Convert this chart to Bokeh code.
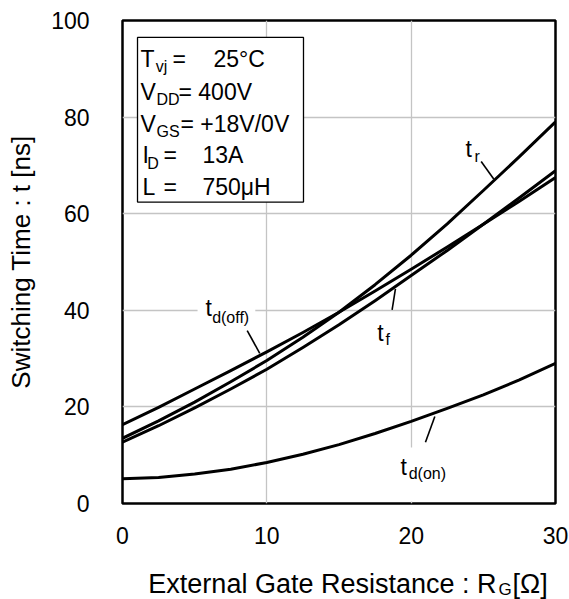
from bokeh.plotting import figure
from bokeh.layouts import column
from bokeh.models import Label, BoxAnnotation, FixedTicker, Range1d
from bokeh.embed import file_html
from bokeh.resources import INLINE

# ---- data ----
rg = [0, 2.5, 5, 7.5, 10, 12.5, 15, 17.5, 20, 22.5, 25, 27.5, 30]
t_d_off = [16.3, 19.9, 23.7, 27.5, 31.4, 35.4, 39.6, 44.0, 48.5, 53.1, 57.8, 62.6, 67.5]
t_r = [13.5, 17.1, 21.0, 25.2, 29.6, 34.4, 39.6, 45.3, 51.4, 57.9, 64.8, 71.8, 79.0]
t_f = [12.7, 16.1, 19.8, 23.7, 27.8, 32.3, 37.0, 42.0, 47.2, 52.4, 57.8, 63.3, 68.9]
t_d_on = [5.1, 5.4, 6.1, 7.1, 8.5, 10.2, 12.2, 14.5, 17.0, 19.7, 22.5, 25.6, 29.0]

x_ticks = [0, 10, 20, 30]
y_ticks = [0, 20, 40, 60, 80, 100]

x_title = "External Gate Resistance : R"
x_title_sub = "G"
x_title_unit = "[Ω]"
y_title = "Switching Time : t [ns]"

FONT = "Liberation Sans"
FS = "23px"
TS = "26px"
SUB = "16px"

p = figure(width=569, height=560, x_range=Range1d(0, 30), y_range=Range1d(0, 100),
           output_backend="svg", toolbar_location=None,
           min_border_left=122, min_border_right=14, min_border_top=20, min_border_bottom=57)

p.background_fill_color = "white"
p.border_fill_color = "white"
p.outline_line_color = "black"
p.outline_line_width = 2.5
p.outline_line_alpha = 1.0

p.xaxis.ticker = FixedTicker(ticks=x_ticks)
p.yaxis.ticker = FixedTicker(ticks=y_ticks)
p.axis.major_tick_line_color = None
p.axis.minor_tick_line_color = None
p.axis.axis_line_color = None
p.axis.major_label_text_font = FONT
p.axis.major_label_text_font_size = FS
p.axis.major_label_text_color = "black"
p.xaxis.major_label_standoff = 17
p.yaxis.major_label_standoff = 27
p.yaxis.axis_label = y_title
p.yaxis.axis_label_text_font = FONT
p.yaxis.axis_label_text_font_size = TS
p.yaxis.axis_label_text_font_style = "normal"
p.yaxis.axis_label_text_color = "black"
p.yaxis.axis_label_standoff = 12

p.grid.grid_line_color = "#c4c4c4"
p.grid.grid_line_width = 1.3

for ys in (t_d_off, t_r, t_f, t_d_on):
    p.line(rg, ys, line_width=3, color="black", line_join="round")

def lab(fig, x, y, text, size=FS, align="left"):
    fig.add_layout(Label(x=x, y=y, text=text, text_font=FONT, text_font_size=size,
                         text_color="black", text_align=align, text_baseline="alphabetic"))

# condition box
p.add_layout(BoxAnnotation(left=1.04, right=12.54, bottom=62.4, top=96.5,
                           fill_color="white", fill_alpha=1.0,
                           line_color="black", line_alpha=1.0, line_width=1.3))
lab(p, 1.25, 92.07, "T"); lab(p, 2.3, 90.46, "vj", SUB); lab(p, 3.46, 92.07, "="); lab(p, 6.3, 92.07, "25°C")
lab(p, 1.25, 85.27, "V"); lab(p, 2.36, 83.66, "DD", SUB); lab(p, 3.88, 85.27, "= 400V")
lab(p, 1.25, 78.57, "V"); lab(p, 2.36, 76.96, "GS", SUB); lab(p, 4.02, 78.57, "= +18V/0V")
lab(p, 1.39, 72.07, "I"); lab(p, 1.72, 70.46, "D", SUB); lab(p, 2.84, 72.07, "="); lab(p, 5.54, 72.07, "13A")
lab(p, 1.39, 65.47, "L"); lab(p, 2.84, 65.47, "="); lab(p, 5.54, 65.47, "750μH")

# white patches behind curve labels
p.add_layout(BoxAnnotation(left=5.2, right=9.2, bottom=36.0, top=42.8,
                           fill_color="white", fill_alpha=1.0, line_color=None))
p.add_layout(BoxAnnotation(left=18.9, right=22.8, bottom=0.4, top=11.6,
                           fill_color="white", fill_alpha=1.0, line_color=None))

# curve labels
lab(p, 23.76, 73.37, "t"); lab(p, 24.39, 71.86, "r", SUB)
lab(p, 17.65, 35.27, "t"); lab(p, 18.22, 33.86, "f", SUB)
lab(p, 5.75, 40.57, "t"); lab(p, 6.21, 38.46, "d(off)", SUB)
lab(p, 19.26, 7.61, "t"); lab(p, 19.83, 6.26, "d(on)", SUB)

# leader lines
p.segment(x0=[24.85, 18.68, 8.64, 20.99], y0=[70.8, 40.1, 35.8, 12.7],
          x1=[25.72, 18.91, 9.51, 21.64], y1=[67.2, 44.45, 31.1, 18.0],
          line_color="black", line_width=1.6)

# x axis title strip (with subscript); its frame lines up with the plot frame
q = figure(width=569, height=39, x_range=Range1d(122, 555), y_range=Range1d(39, 0),
           title=None, output_backend="svg", toolbar_location=None,
           x_axis_type=None, y_axis_type=None,
           min_border=0, min_border_left=0, min_border_right=0, min_border_top=0, min_border_bottom=0)
q.outline_line_color = None
q.grid.visible = False
q.background_fill_color = "white"
q.border_fill_color = "white"
lab(q, 496, 23.0, x_title, "27px", "right")
lab(q, 498, 29.0, x_title_sub, "17px")
lab(q, 512, 23.0, x_title_unit, "27px")

layout = column(p, q, spacing=0)
open("out.html", "w").write(file_html(layout, INLINE))
